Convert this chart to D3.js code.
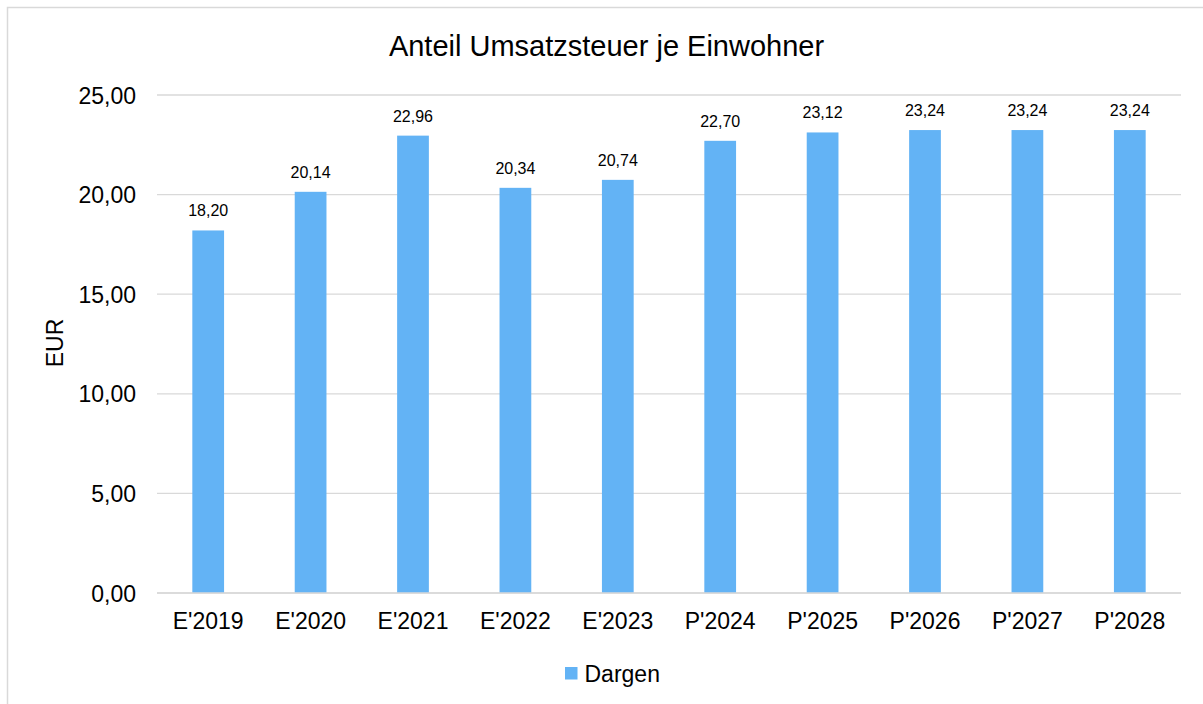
<!DOCTYPE html>
<html>
<head>
<meta charset="utf-8">
<script src="https://cdn.jsdelivr.net/npm/d3@7"></script>
<style>
  body { margin: 0; background: #fff; }
  text { font-family: "Liberation Sans", Arial, sans-serif; fill: #000; }
</style>
</head>
<body>
<div id="chart"></div>
<script>
// Daten
const categories = ["E'2019", "E'2020", "E'2021", "E'2022", "E'2023", "P'2024", "P'2025", "P'2026", "P'2027", "P'2028"];
const values = [18.20, 20.14, 22.96, 20.34, 20.74, 22.70, 23.12, 23.24, 23.24, 23.24];
const yTicks = [0, 5, 10, 15, 20, 25];
const seriesName = "Dargen";
const title = "Anteil Umsatzsteuer je Einwohner";
const yLabel = "EUR";

const width = 1203, height = 704;
const margin = { left: 157, right: 22, top: 95, bottom: 111 };
const barColor = "#63b3f5";
const fmt = v => d3.format(".2f")(v).replace(".", ",");

const svg = d3.select("#chart").append("svg")
  .attr("width", width)
  .attr("height", height);

// Rahmen (rechts und unten außerhalb des Bildes)
svg.append("rect")
  .attr("x", 7.5).attr("y", 7.5)
  .attr("width", width + 20).attr("height", height + 20)
  .attr("fill", "#fff")
  .attr("stroke", "#d9d9d9")
  .attr("stroke-width", 1.5);

const x = d3.scaleBand()
  .domain(categories)
  .range([margin.left, width - margin.right])
  .paddingInner(0.69)
  .paddingOuter(0.345);

const y = d3.scaleLinear()
  .domain([0, 25])
  .range([height - margin.bottom, margin.top]);

// Gitterlinien
svg.append("g")
  .selectAll("line")
  .data(yTicks)
  .join("line")
  .attr("x1", margin.left)
  .attr("x2", width - margin.right)
  .attr("y1", d => y(d))
  .attr("y2", d => y(d))
  .attr("stroke", "#d9d9d9")
  .attr("stroke-width", 1.3);

// Y-Achse
const yAxis = svg.append("g")
  .attr("transform", `translate(${margin.left - 21},0)`)
  .call(d3.axisLeft(y).tickValues(yTicks).tickFormat(fmt).tickSize(0).tickPadding(0));
yAxis.select(".domain").remove();
yAxis.selectAll("text")
  .style("font-size", "23px")
  .attr("dy", "0.35em");

// Balken
svg.append("g")
  .selectAll("rect")
  .data(values)
  .join("rect")
  .attr("x", (d, i) => x(categories[i]))
  .attr("y", d => y(d))
  .attr("width", x.bandwidth())
  .attr("height", d => y(0) - y(d))
  .attr("fill", barColor);

// Nulllinie
svg.append("line")
  .attr("x1", margin.left)
  .attr("x2", width - margin.right)
  .attr("y1", y(0))
  .attr("y2", y(0))
  .attr("stroke", "#d9d9d9")
  .attr("stroke-width", 1.5);

// Datenbeschriftungen
svg.append("g")
  .selectAll("text")
  .data(values)
  .join("text")
  .attr("x", (d, i) => x(categories[i]) + x.bandwidth() / 2)
  .attr("y", d => y(d) - 14)
  .attr("text-anchor", "middle")
  .style("font-size", "16px")
  .text(d => fmt(d));

// X-Achse
const xAxis = svg.append("g")
  .attr("transform", `translate(0,${y(0)})`)
  .call(d3.axisBottom(x).tickSize(0).tickPadding(0));
xAxis.select(".domain").remove();
xAxis.selectAll("text")
  .attr("y", 36)
  .attr("dy", 0)
  .style("font-size", "23px");

// Titel
svg.append("text")
  .attr("x", 606.5)
  .attr("y", 56)
  .attr("text-anchor", "middle")
  .style("font-size", "29px")
  .text(title);

// Y-Achsentitel
svg.append("text")
  .attr("transform", `translate(63,343) rotate(-90)`)
  .attr("text-anchor", "middle")
  .style("font-size", "23px")
  .text(yLabel);

// Legende
const legend = svg.append("g").attr("transform", "translate(565,667)");
legend.append("rect")
  .attr("width", 12.5).attr("height", 12.5)
  .attr("fill", barColor);
legend.append("text")
  .attr("x", 19.5)
  .attr("y", 14.5)
  .style("font-size", "23px")
  .text(seriesName);
</script>
</body>
</html>
